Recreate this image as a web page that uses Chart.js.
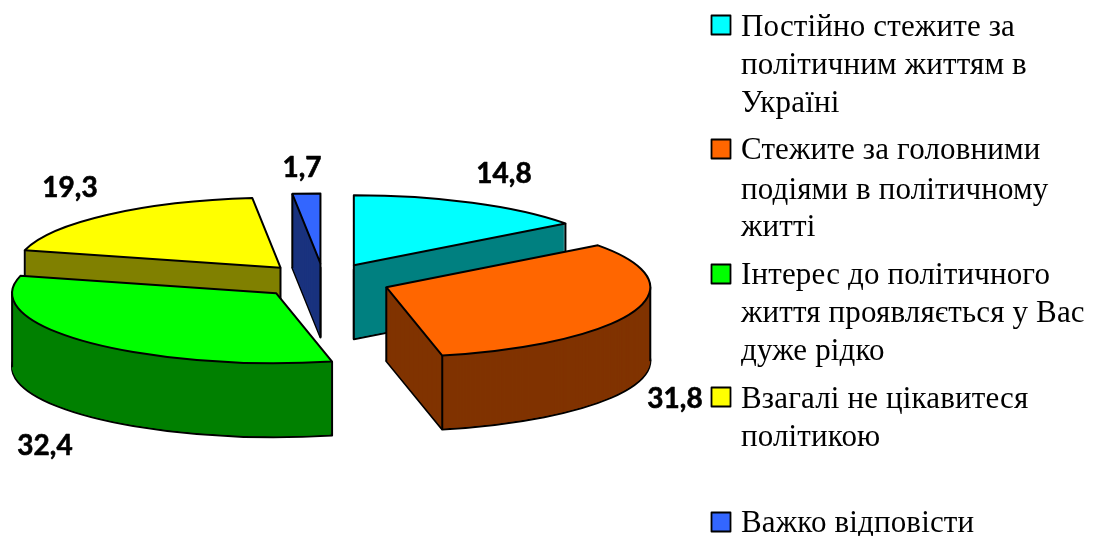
<!DOCTYPE html>
<html><head><meta charset="utf-8">
<style>html,body{margin:0;padding:0;background:#fff}canvas{display:block}</style>
<script src="https://cdn.jsdelivr.net/npm/chart.js@4"></script>
</head><body>
<div style="width:1098px;height:536px"><canvas id="c" width="1098" height="536"></canvas></div>
<script>
const categories = [
  ["Постійно стежите за","політичним життям в","Україні"],
  ["Стежите за головними","подіями в політичному","житті"],
  ["Інтерес до політичного","життя проявляється у Вас","дуже рідко"],
  ["Взагалі не цікавитеся","політикою"],
  ["Важко відповісти"]
];
const values = [14.8, 31.8, 32.4, 19.3, 1.7];
const topColors = ["#00FFFF","#FF6600","#00FF00","#FFFF00","#3366FF"];
const wallColors = ["#008080","#803300","#008000","#808000","#1A337F"];

// layout constants
const RADIUS = 264, SQUASH = 0.265, EXPLODE = 66.5, DEPTH = 74;
const valueLabelAt = [[504,174],[675,399],[45,446],[70,188],[302,168]];
const legendX = 741, swatchX = 711.5, swatchSize = 19;
const legendBaselines = [[36,74,112],[159,199,236],[284,322,360],[408,446],[532]];
const swatchTops = [15.5,139.5,264.5,387.5,512.5];

const pie3d = {
  id:'pie3d',
  beforeDatasetDraw(chart){
    const ctx = chart.ctx;
    const arcs = chart.getDatasetMeta(0).data;
    const order = arcs.map((a,i)=>i).sort((p,q)=>{
      const m=a=>Math.sin((arcs[a].startAngle+arcs[a].endAngle)/2);
      return m(p)-m(q);
    });
    ctx.save();
    ctx.lineJoin='round';
    order.forEach(i=>{
      const a = arcs[i], s=a.startAngle, e=a.endAngle, R=a.outerRadius, mid=(s+e)/2;
      const cx = a.x + Math.cos(mid)*EXPLODE;
      const cy = a.y + Math.sin(mid)*EXPLODE*SQUASH;
      const wedge = dy=>{
        ctx.beginPath();
        ctx.moveTo(cx,cy+dy);
        ctx.ellipse(cx,cy+dy,R,R*SQUASH,0,s,e);
        ctx.closePath();
      };
      ctx.strokeStyle='#000'; ctx.lineWidth=2;
      ctx.fillStyle=wallColors[i];
      wedge(DEPTH); ctx.fill(); ctx.stroke();
      for(let d=DEPTH-1;d>=0;d--){ wedge(d); ctx.fill(); }
      // vertical edges that stay visible below the top face
      const inTop=(px,py)=>{
        const ux=px-cx, uy=(py-cy)/SQUASH;
        if(Math.hypot(ux,uy)>=R) return false;
        let t=Math.atan2(uy,ux);
        while(t<s) t+=Math.PI*2;
        return t<=e;
      };
      const corners=[[cx,cy]];
      [s,e].forEach(t=>corners.push([cx+R*Math.cos(t),cy+R*SQUASH*Math.sin(t)]));
      [0,Math.PI,Math.PI*2].forEach(t=>{
        if(t>s&&t<e) corners.push([cx+R*Math.cos(t),cy+R*SQUASH*Math.sin(t)]);
      });
      corners.forEach(([px,py])=>{
        if(inTop(px,py+3)) return;
        ctx.beginPath();ctx.moveTo(px,py);ctx.lineTo(px,py+DEPTH);ctx.stroke();
      });
      ctx.fillStyle=topColors[i];
      wedge(0); ctx.fill(); ctx.stroke();
    });
    ctx.restore();
    return false;
  },
  afterDraw(chart){
    const ctx=chart.ctx;
    ctx.save();
    ctx.fillStyle='#000';ctx.strokeStyle='#000';ctx.lineWidth=0.6;ctx.lineJoin='round';
    ctx.textAlign='center';ctx.textBaseline='middle';
    ctx.font='bold 28px Lato';
    values.forEach((v,i)=>{
      const t=v.toFixed(1).replace('.',',');
      ctx.fillText(t,valueLabelAt[i][0],valueLabelAt[i][1]);
      ctx.strokeText(t,valueLabelAt[i][0],valueLabelAt[i][1]);
    });
    ctx.textAlign='left';ctx.textBaseline='alphabetic';
    ctx.font='31px "Liberation Serif"';
    ctx.letterSpacing='0.15px';
    categories.forEach((lines,i)=>{
      ctx.fillStyle=topColors[i];ctx.strokeStyle='#000';ctx.lineWidth=1.8;
      ctx.fillRect(swatchX,swatchTops[i],swatchSize,swatchSize);
      ctx.strokeRect(swatchX,swatchTops[i],swatchSize,swatchSize);
      ctx.fillStyle='#000';
      lines.forEach((t,j)=>ctx.fillText(t,legendX,legendBaselines[i][j]));
    });
    ctx.restore();
  }
};

new Chart(document.getElementById('c'),{
  type:'pie',
  data:{labels:categories.map(l=>l.join(' ')),datasets:[{data:values,backgroundColor:topColors,radius:RADIUS,borderWidth:0}]},
  options:{
    responsive:false,animation:false,events:[],
    layout:{padding:{right:450,top:26,left:0,bottom:0}},
    plugins:{legend:{display:false},tooltip:{enabled:false},title:{display:false}}
  },
  plugins:[pie3d]
});
</script>
</body></html>
